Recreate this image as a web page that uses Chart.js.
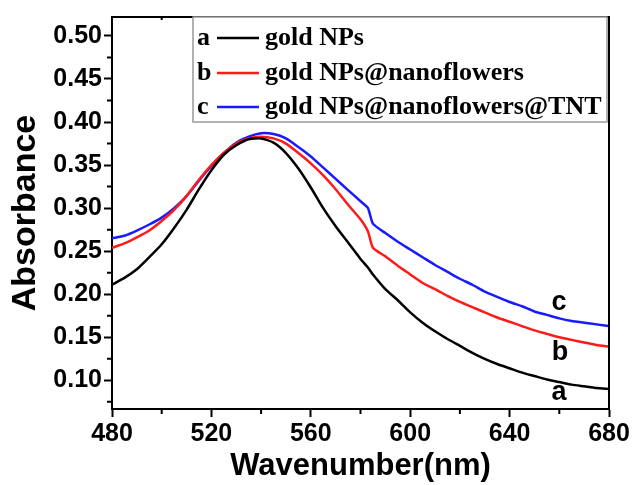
<!DOCTYPE html>
<html>
<head>
<meta charset="utf-8">
<script src="https://cdn.jsdelivr.net/npm/chart.js@4.4.1/dist/chart.umd.min.js"></script>
<style>
  html, body { margin: 0; padding: 0; background: #fff; }
  #wrap { width: 633px; height: 485px; }
</style>
</head>
<body>
<div id="wrap"><canvas id="uvChart" width="633" height="485"></canvas></div>
<script>
// Wavelengths (nm) shared by all three spectra
const wavelengths = [480, 485, 490, 495, 500, 505, 510, 515, 520, 525, 530, 535, 540, 545, 550, 555, 560, 565, 570, 575, 580, 583, 585, 590, 595, 600, 605, 610, 615, 620, 625, 630, 635, 640, 645, 650, 655, 660, 665, 670, 675, 680];

// a: gold NPs
const goldNPs = [0.211, 0.219, 0.229, 0.243, 0.258, 0.277, 0.298, 0.322, 0.344, 0.362, 0.373, 0.380, 0.381, 0.376, 0.364, 0.346, 0.324, 0.300, 0.279, 0.260, 0.241, 0.231, 0.223, 0.206, 0.193, 0.179, 0.167, 0.157, 0.148, 0.140, 0.132, 0.125, 0.119, 0.114, 0.109, 0.105, 0.101, 0.098, 0.095, 0.093, 0.091, 0.090];
// b: gold NPs@nanoflowers
const goldFlowers = [0.254, 0.259, 0.266, 0.274, 0.285, 0.298, 0.314, 0.333, 0.350, 0.364, 0.375, 0.381, 0.383, 0.381, 0.375, 0.364, 0.352, 0.338, 0.322, 0.304, 0.287, 0.273, 0.254, 0.244, 0.233, 0.223, 0.213, 0.206, 0.198, 0.191, 0.185, 0.179, 0.173, 0.168, 0.163, 0.158, 0.154, 0.150, 0.147, 0.144, 0.141, 0.139];
// c: gold NPs@nanoflowers@TNT
const goldFlowersTNT = [0.265, 0.268, 0.274, 0.281, 0.289, 0.300, 0.314, 0.332, 0.349, 0.364, 0.376, 0.383, 0.387, 0.386, 0.381, 0.371, 0.360, 0.347, 0.334, 0.321, 0.308, 0.300, 0.282, 0.271, 0.261, 0.252, 0.243, 0.234, 0.226, 0.218, 0.211, 0.203, 0.197, 0.191, 0.186, 0.180, 0.176, 0.172, 0.169, 0.167, 0.165, 0.163];

const seriesLetters = ["a", "b", "c"];
const seriesNames = ["gold NPs", "gold NPs@nanoflowers", "gold NPs@nanoflowers@TNT"];
const seriesColors = ["#000000", "#ff1a1a", "#1a1aff"];

const xTicks = [480, 520, 560, 600, 640, 680];
const xMinorTicks = [500, 540, 580, 620, 660];
const yTicks = [0.10, 0.15, 0.20, 0.25, 0.30, 0.35, 0.40, 0.45, 0.50];
const yMinorTicks = [0.075, 0.125, 0.175, 0.225, 0.275, 0.325, 0.375, 0.425, 0.475];

const axisFont = "'Liberation Sans', Arial, sans-serif";
const legendFont = "'Liberation Serif', 'Times New Roman', serif";

function toPoints(values) {
    return values.map((v, i) => ({ x: wavelengths[i], y: v }));
}

// Frame, minor ticks, legend box and curve letters
const decorations = {
    id: "decorations",
    afterDraw(chart) {
        const ctx = chart.ctx;
        const area = chart.chartArea;
        const xs = chart.scales.x;
        const ys = chart.scales.y;
        ctx.save();
        ctx.strokeStyle = "#000";
        ctx.lineWidth = 2;
        ctx.beginPath();
        ctx.moveTo(area.left, area.top);
        ctx.lineTo(area.right, area.top);
        ctx.lineTo(area.right, area.bottom);
        ctx.stroke();

        // minor ticks
        ctx.lineWidth = 2;
        ctx.beginPath();
        yMinorTicks.forEach(v => {
            const py = ys.getPixelForValue(v);
            ctx.moveTo(area.left - 5, py);
            ctx.lineTo(area.left, py);
        });
        xMinorTicks.forEach(v => {
            const px = xs.getPixelForValue(v);
            ctx.moveTo(px, area.bottom);
            ctx.lineTo(px, area.bottom + 5);
            ctx.moveTo(px, area.top);
            ctx.lineTo(px, area.top + 3);
        });
        xTicks.forEach(v => {
            const px = xs.getPixelForValue(v);
            ctx.moveTo(px, area.top);
            ctx.lineTo(px, area.top + 3);
        });
        ctx.stroke();

        // legend
        const lx = 193, ly = 17, lw = 414, lh = 105;
        ctx.fillStyle = "#fff";
        ctx.fillRect(lx, ly, lw, lh);
        ctx.strokeStyle = "#999";
        ctx.lineWidth = 1.5;
        ctx.strokeRect(lx, ly, lw, lh);
        const rowY = [38, 73, 107];
        ctx.font = "bold 26px " + legendFont;
        ctx.textBaseline = "middle";
        seriesNames.forEach((name, i) => {
            ctx.fillStyle = "#000";
            ctx.textAlign = "left";
            ctx.fillText(seriesLetters[i], 197, rowY[i]);
            ctx.strokeStyle = seriesColors[i];
            ctx.lineWidth = 2.5;
            ctx.beginPath();
            ctx.moveTo(217, rowY[i]);
            ctx.lineTo(259, rowY[i]);
            ctx.stroke();
            ctx.fillStyle = "#000";
            ctx.fillText(name, 265, rowY[i]);
        });

        // curve letters
        ctx.font = "bold 27px " + axisFont;
        ctx.textAlign = "center";
        ctx.fillStyle = "#000";
        ctx.fillText("c", 559, 303);
        ctx.fillText("b", 560, 353);
        ctx.fillText("a", 559, 393);
        ctx.restore();
    }
};

document.addEventListener("DOMContentLoaded", function () {
    const ctx = document.getElementById("uvChart").getContext("2d");
    new Chart(ctx, {
        type: "line",
        data: {
            datasets: [goldNPs, goldFlowers, goldFlowersTNT].map((vals, i) => ({
                label: seriesNames[i],
                data: toPoints(vals),
                borderColor: seriesColors[i],
                borderWidth: 2.5,
                pointRadius: 0,
                tension: 0.2,
                fill: false
            }))
        },
        options: {
            responsive: false,
            animation: false,
            layout: { padding: { top: 13, right: 24, left: 0, bottom: 0 } },
            plugins: { legend: { display: false }, tooltip: { enabled: false } },
            scales: {
                x: {
                    type: "linear",
                    min: 480,
                    max: 680,
                    afterBuildTicks: scale => { scale.ticks = xTicks.map(v => ({ value: v })); },
                    afterFit: scale => { scale.height = 76; },
                    border: { color: "#000", width: 2 },
                    grid: { drawOnChartArea: false, tickLength: 8, tickWidth: 2, tickColor: "#000" },
                    ticks: {
                        color: "#000",
                        padding: 2,
                        maxRotation: 0,
                        font: { family: axisFont, size: 25, weight: "bold" }
                    },
                    title: {
                        display: true,
                        text: "Wavenumber(nm)",
                        color: "#000",
                        padding: { top: 0, bottom: 0 },
                        font: { family: axisFont, size: 31, weight: "bold" }
                    }
                },
                y: {
                    type: "linear",
                    min: 0.0667,
                    max: 0.522,
                    afterBuildTicks: scale => { scale.ticks = yTicks.map(v => ({ value: v })); },
                    afterFit: scale => { scale.width = 112; },
                    border: { color: "#000", width: 2 },
                    grid: { drawOnChartArea: false, tickLength: 8, tickWidth: 2, tickColor: "#000" },
                    ticks: {
                        color: "#000",
                        padding: 2,
                        callback: v => v.toFixed(2),
                        font: { family: axisFont, size: 25, weight: "bold" }
                    },
                    title: {
                        display: true,
                        text: "Absorbance",
                        color: "#000",
                        padding: { top: 5, bottom: 0 },
                        font: { family: axisFont, size: 34, weight: "bold" }
                    }
                }
            }
        },
        plugins: [decorations]
    });
});
</script>
</body>
</html>
